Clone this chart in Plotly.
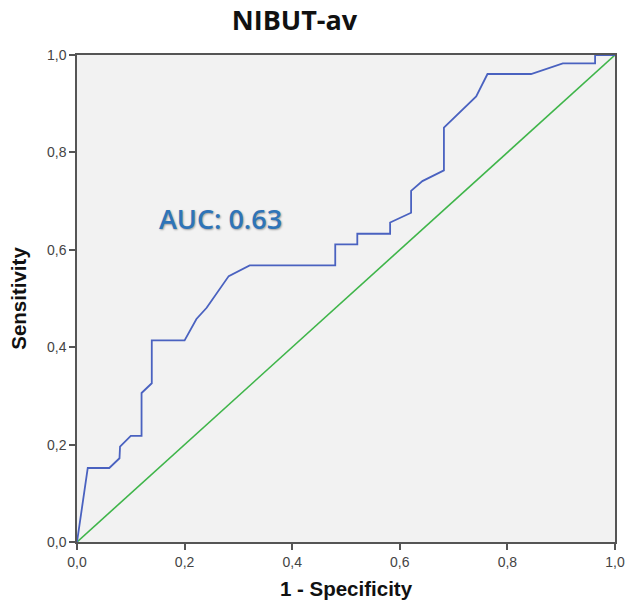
import plotly.graph_objects as go

# ROC curve points (1 - specificity, sensitivity)
fpr = [0.0, 0.02, 0.06, 0.079, 0.08, 0.10, 0.12, 0.12, 0.139, 0.139, 0.20, 0.222, 0.241,
       0.282, 0.321, 0.48, 0.48, 0.521, 0.521, 0.582, 0.582, 0.621, 0.621, 0.642, 0.682,
       0.682, 0.742, 0.763, 0.844, 0.903, 0.963, 0.963, 1.0]
tpr = [0.0, 0.152, 0.152, 0.172, 0.196, 0.218, 0.218, 0.306, 0.326, 0.414, 0.414, 0.458, 0.481,
       0.546, 0.568, 0.568, 0.611, 0.611, 0.633, 0.633, 0.656, 0.676, 0.721, 0.741, 0.763,
       0.851, 0.915, 0.961, 0.961, 0.983, 0.983, 1.0, 1.0]
ref_x = [0.0, 1.0]
ref_y = [0.0, 1.0]
tick_vals = [0.0, 0.2, 0.4, 0.6, 0.8, 1.0]
title_text = "NIBUT-av"
auc_text = "AUC: 0.63"
x_title = "1 - Specificity"
y_title = "Sensitivity"

fig = go.Figure()
fig.add_trace(go.Scatter(x=ref_x, y=ref_y, mode="lines",
                         line=dict(color="#3fb54a", width=1.6), hoverinfo="skip"))
fig.add_trace(go.Scatter(x=fpr, y=tpr, mode="lines",
                         line=dict(color="#4a62c0", width=1.8)))

axis_common = dict(
    range=[0, 1], tickvals=tick_vals, tickformat=".1f", automargin=False,
    showgrid=False, zeroline=False, showline=True, mirror=True,
    linecolor="#555555", linewidth=1.5, ticks="outside", ticklen=6,
    tickwidth=1.5, tickcolor="#555555",
    tickfont=dict(family="Liberation Sans, Arial", size=14, color="#444444"),
    title_font=dict(family="Liberation Sans, Arial", size=20.5, color="#111111"),
)

fig.update_layout(
    width=631, height=603,
    margin=dict(l=77, r=16, t=55, b=61),
    paper_bgcolor="white", plot_bgcolor="#f2f2f2",
    separators=",.",
    showlegend=False,
    title=dict(text="<b>" + title_text + "</b>", x=294.5/631, xanchor="center",
               y=1 - 21/603, yanchor="middle", yref="container", automargin=False,
               font=dict(family="Open Sans, sans-serif", size=27, color="#111111")),
    xaxis=dict(**axis_common, title=dict(text="<b>" + x_title + "</b>", standoff=13)),
    yaxis=dict(**axis_common, title=dict(text="<b>" + y_title + "</b>", standoff=15)),
    annotations=[dict(x=(220.5 - 77) / 538, y=(542 - 218) / 487, xref="x", yref="y",
                      text=auc_text,
                      showarrow=False, xanchor="center", yanchor="middle",
                      font=dict(family="Open Sans, sans-serif", size=27, weight=600,
                                color="#2e74b8",
                                shadow="1px 1px 2px rgba(0,0,0,0.35)"))],
)

fig.write_html("out.html", config={"displayModeBar": False},
               post_script="document.body.style.margin='0px';")
